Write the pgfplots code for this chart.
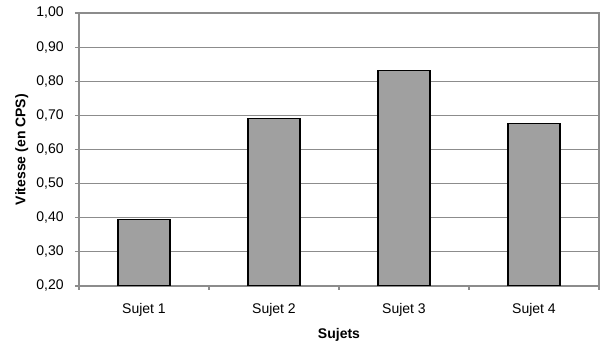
\documentclass[border=0pt]{standalone}
\usepackage{fontspec}
\setmainfont{Liberation Sans}
\usepackage{pgfplots}
\pgfplotsset{compat=1.18}
\definecolor{barfill}{HTML}{A0A0A0}
\definecolor{gridc}{HTML}{8C8C8C}
\begin{document}
\begin{tikzpicture}[x=1pt,y=1pt]
\useasboundingbox (-59.25,-42) rectangle (393.75,214.5);
\begin{axis}[
  at={(0,0)}, anchor=origin,
  scale only axis,
  width=390pt, height=204.75pt,
  xmin=0.5, xmax=4.5,
  ymin=0.2, ymax=1.0,
  ytick={0.2,0.3,...,1.0},
  xtick={1,2,3,4},
  xticklabels={Sujet 1,Sujet 2,Sujet 3,Sujet 4},
  minor xtick={0.5,1.5,2.5,3.5,4.5},
  tick pos=left,
  tick align=outside,
  major tick length=3pt,
  minor tick length=3pt,
  x tick style={draw=none},
  minor x tick style={draw=gridc, line width=0.8pt},
  y tick style={draw=gridc, line width=0.8pt},
  ymajorgrids,
  grid style={gridc, line width=0.8pt},
  axis line style={gridc, line width=0.8pt},
  tick label style={font=\fontsize{10.5}{12}\selectfont},
  /pgf/number format/assume math mode=true,
  yticklabel style={/pgf/number format/fixed, /pgf/number format/fixed zerofill,
    /pgf/number format/precision=2, /pgf/number format/use comma, xshift=-5pt},
  xticklabel style={anchor=center, yshift=-15pt},
  xlabel={Sujets},
  ylabel={Vitesse (en CPS)},
  label style={font=\fontsize{10.5}{12}\selectfont\bfseries},
  xlabel style={at={(axis description cs:0.5,-0.18)}, anchor=center},
  ylabel style={at={(axis description cs:-0.11,0.5)}, anchor=center},
]
\addplot[ybar, bar width=0.4, fill=barfill, draw=black, line width=0.9pt]
  coordinates {(1,0.395) (2,0.692) (3,0.832) (4,0.677)};
\end{axis}
\end{tikzpicture}
\end{document}
